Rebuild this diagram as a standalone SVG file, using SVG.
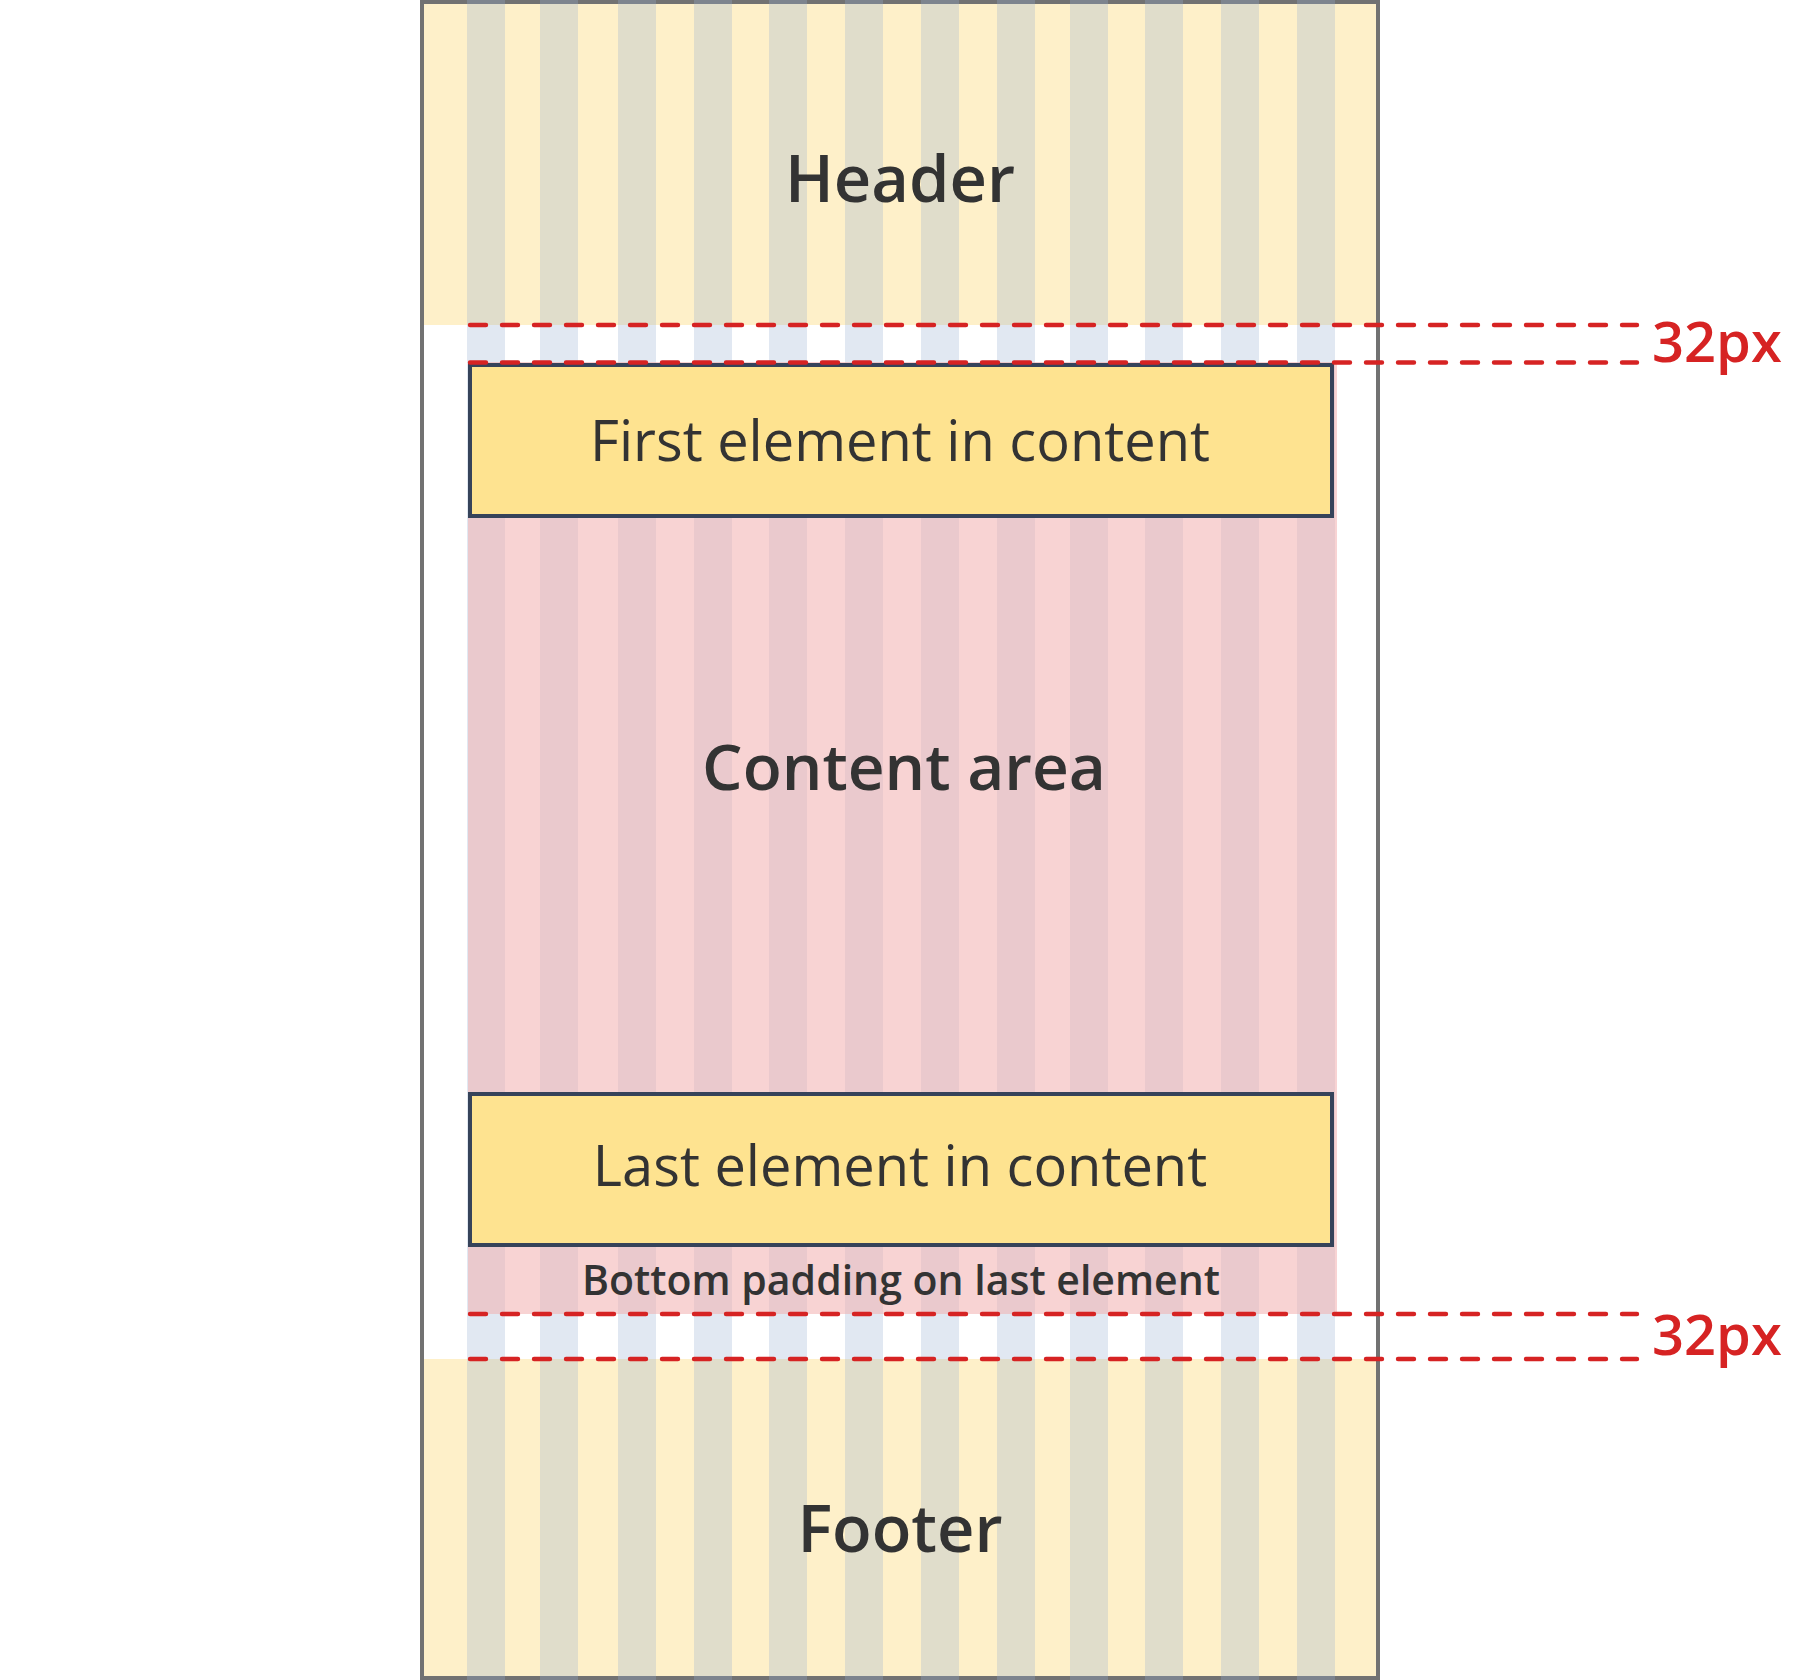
<svg xmlns="http://www.w3.org/2000/svg" width="1800" height="1680" viewBox="0 0 1800 1680">
<defs>
<style>
.band{fill:#fef0c9}
.col{fill:rgb(152,176,210);fill-opacity:0.29}
.pink{fill:rgb(242,175,175);fill-opacity:0.55}
.box{fill:#fee390;stroke:#36435a;stroke-width:4}
.dash{stroke:#d62323;stroke-width:4.4;stroke-dasharray:16 16;stroke-linecap:round;fill:none}
.t{font-family:"Open Sans","Noto Sans","DejaVu Sans",sans-serif;fill:#333333;text-anchor:middle}
.big{font-size:65px;font-weight:600}
.mid{font-size:56px;font-weight:400}
.small{font-size:41px;font-weight:600}
.red{font-family:"Open Sans","Noto Sans","DejaVu Sans",sans-serif;fill:#d62323;font-size:56px;font-weight:600}
</style>
</defs>
<rect width="1800" height="1680" fill="#ffffff"/>
<g id="header"><rect class="band" x="422" y="2" width="956" height="323"/></g>
<g id="footer"><rect class="band" x="422" y="1359" width="956" height="319"/></g>
<rect id="frame" x="422" y="2" width="956" height="1676" fill="none" stroke="#727272" stroke-width="4"/>
<g id="columns">
<rect class="col" x="467" y="0" width="38" height="1680"/>
<rect class="col" x="540" y="0" width="38" height="1680"/>
<rect class="col" x="618" y="0" width="38" height="1680"/>
<rect class="col" x="694" y="0" width="38" height="1680"/>
<rect class="col" x="769" y="0" width="38" height="1680"/>
<rect class="col" x="845" y="0" width="38" height="1680"/>
<rect class="col" x="921" y="0" width="38" height="1680"/>
<rect class="col" x="997" y="0" width="38" height="1680"/>
<rect class="col" x="1070" y="0" width="38" height="1680"/>
<rect class="col" x="1145" y="0" width="38" height="1680"/>
<rect class="col" x="1221" y="0" width="38" height="1680"/>
<rect class="col" x="1297" y="0" width="38" height="1680"/>
</g>
<g id="content"><rect class="pink" x="468" y="362" width="869" height="952"/></g>
<g id="first-element"><rect class="box" x="470" y="365" width="862" height="151"/><text class="t mid" x="900" y="461">First element in content</text></g>
<g id="last-element"><rect class="box" x="470" y="1094" width="862" height="151"/><text class="t mid" x="900" y="1186">Last element in content</text></g>
<g id="connectors">
<line class="dash" x1="470" y1="325" x2="1637" y2="325"/>
<line class="dash" x1="470" y1="362.5" x2="1637" y2="362.5"/>
<line class="dash" x1="470" y1="1314" x2="1637" y2="1314"/>
<line class="dash" x1="470" y1="1359" x2="1637" y2="1359"/>
</g>
<g id="labels">
<text class="t big" x="900" y="202">Header</text>
<text class="t big" x="904" y="790" style="font-size:64px">Content area</text>
<text class="t big" x="900" y="1552">Footer</text>
<text class="t small" x="901" y="1295">Bottom padding on last element</text>
<text class="red" x="1652" y="362">32px</text>
<text class="red" x="1652" y="1355">32px</text>
</g>
</svg>
